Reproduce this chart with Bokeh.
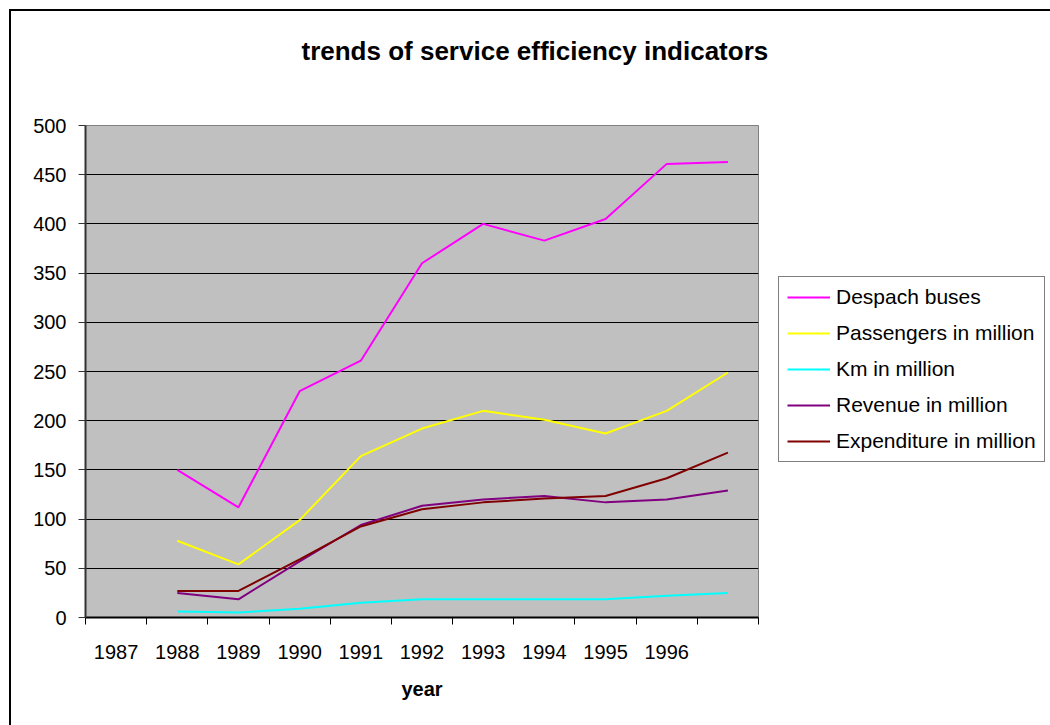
from bokeh.plotting import figure
from bokeh.layouts import column
from bokeh.models import Range1d, FixedTicker, Legend, LegendItem
from bokeh.embed import file_html
from bokeh.resources import INLINE

# ---- data ----
categories = ["1987", "1988", "1989", "1990", "1991", "1992", "1993", "1994", "1995", "1996", ""]
despach = [None, 150, 112, 230, 261, 360, 400, 383, 405, 461, 463]
passengers = [None, 78, 54, 99, 164, 192, 210, 201, 187, 210, 249]
km = [None, 6, 5, 9, 15, 18.5, 18.5, 18.5, 18.5, 22, 25]
revenue = [None, 25, 18.5, 57, 94, 113.5, 120, 123.5, 117, 120, 129]
expenditure = [None, 27, 27, 59, 92.5, 110, 117, 121, 123.5, 141.5, 167.5]
series_names = ["Despach buses", "Passengers in million", "Km in million",
                "Revenue in million", "Expenditure in million"]
series_colors = ["#FF00FF", "#FFFF00", "#00FFFF", "#800080", "#800000"]
y_ticks = [0, 50, 100, 150, 200, 250, 300, 350, 400, 450, 500]
title_text = "trends of service efficiency indicators"
x_title = "year"

FONT = "Liberation Sans"

xs = list(range(len(categories)))

p = figure(output_backend="svg", toolbar_location=None,
           x_range=Range1d(-0.5, len(categories) - 0.5), y_range=Range1d(0, 500),
           min_border_left=85, min_border_right=292, min_border_top=125, min_border_bottom=108,
           frame_width=673, frame_height=492, title=title_text + "\n ")
p.background_fill_color = "#C0C0C0"
p.border_fill_color = None
p.outline_line_color = "#808080"
p.outline_line_width = 1

def nanify(v):
    return [float("nan") if a is None else a for a in v]

items = []
for name, vals, col in zip(series_names, [despach, passengers, km, revenue, expenditure], series_colors):
    r = p.line(xs, nanify(vals), line_color=col, line_width=2)
    items.append(LegendItem(label=name, renderers=[r]))

# title
p.title.text_font = FONT
p.title.text_font_style = "bold"
p.title.text_font_size = "26px"
p.title.text_color = "black"
p.title.align = "left"
p.title.offset = 216
p.title.standoff = 59

# x axis
xa = p.xaxis[0]
xa.ticker = FixedTicker(ticks=xs, minor_ticks=[i - 0.5 for i in range(len(categories) + 1)])
xa.major_label_overrides = {i: c for i, c in enumerate(categories)}
xa.major_tick_out = 0
xa.major_tick_in = 0
xa.minor_tick_out = 7
xa.minor_tick_in = 0
xa.minor_tick_line_color = "black"
xa.axis_line_color = "black"
xa.axis_line_width = 2
xa.major_label_text_font = FONT
xa.major_label_text_font_size = "20px"
xa.major_label_text_color = "black"
xa.major_label_standoff = 20
xa.axis_label = x_title
xa.axis_label_text_font = FONT
xa.axis_label_text_font_style = "bold"
xa.axis_label_text_font_size = "20px"
xa.axis_label_text_color = "black"
xa.axis_label_standoff = 16

# y axis
ya = p.yaxis[0]
ya.ticker = FixedTicker(ticks=y_ticks)
ya.major_tick_out = 7
ya.major_tick_in = 0
ya.minor_tick_out = 0
ya.minor_tick_in = 0
ya.major_tick_line_color = "#333333"
ya.axis_line_color = "#333333"
ya.axis_line_width = 2
ya.major_label_text_font = FONT
ya.major_label_text_font_size = "20px"
ya.major_label_text_color = "black"
ya.major_label_standoff = 12

p.xgrid.grid_line_color = None
p.ygrid.ticker = FixedTicker(ticks=y_ticks)
p.ygrid.grid_line_color = "black"
p.ygrid.grid_line_width = 1

lg = Legend(items=items, location=(20, 155))
lg.border_line_color = "black"
lg.border_line_width = 1
lg.background_fill_color = "white"
lg.background_fill_alpha = 1
lg.label_text_font = FONT
lg.label_text_font_size = "21px"
lg.label_text_color = "black"
lg.glyph_width = 43
lg.glyph_height = 22
lg.label_height = 22
lg.label_standoff = 6
lg.spacing = 12
lg.padding = 8
lg.margin = 0
p.add_layout(lg, "right")

border_svg = ("url(\"data:image/svg+xml,%3Csvg xmlns='http://www.w3.org/2000/svg' "
              "width='1050' height='725'%3E%3Cpath d='M10 725V10H1050' stroke='black' "
              "stroke-width='2' fill='none'/%3E%3C/svg%3E\")")

page = column(p, styles={
    "background-color": "white",
    "background-image": border_svg,
    "background-position": "0px 0px",
    "background-size": "1050px 725px",
    "background-repeat": "no-repeat",
})

open("out.html", "w").write(file_html(page, INLINE))
